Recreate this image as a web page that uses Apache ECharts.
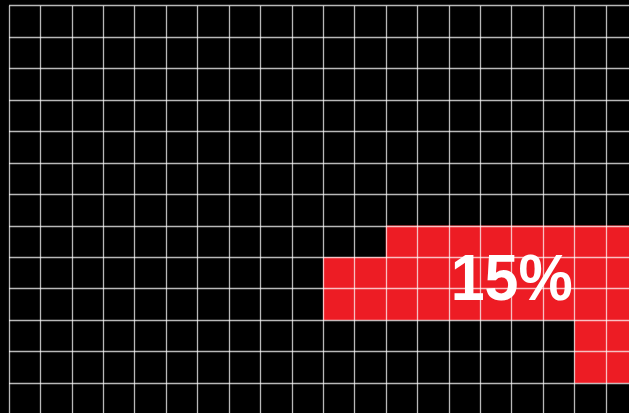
<!DOCTYPE html>
<html>
<head>
<meta charset="utf-8">
<script src="https://cdn.jsdelivr.net/npm/echarts@6/dist/echarts.min.js"></script>
<style>
html,body{margin:0;padding:0;background:#000;}
#chart{width:629px;height:413px;}
</style>
</head>
<body>
<div id="chart"></div>
<script>
// Grid of cells: columns and rows (category indices)
const columns = ['0','1','2','3','4','5','6','7','8','9','10','11','12','13','14','15','16','17','18','19'];
const rows = ['0','1','2','3','4','5','6','7','8','9','10','11','12'];
// Filled (red) cells: for each filled row, the first filled column (filled through the last column)
const filledRows = [7, 8, 9, 10, 11];
const filledFromCol = [12, 10, 10, 18, 18];
const labelText = '15%';

const data = [];
filledRows.forEach((r, i) => {
  for (let c = filledFromCol[i]; c < columns.length; c++) data.push([c, r, 1]);
});

const cellW = 31.42;
const cellH = 31.44;
const chart = echarts.init(document.getElementById('chart'));
chart.setOption({
  backgroundColor: '#000000',
  animation: false,
  grid: {
    left: 9, top: 5.7, width: cellW * columns.length, height: cellH * rows.length,
    outerBoundsMode: 'none', containLabel: false
  },
  xAxis: {
    type: 'category', data: columns, z: 10,
    axisLine: { show: false }, axisTick: { show: false }, axisLabel: { show: false },
    splitLine: { show: true, lineStyle: { color: 'rgba(255,255,255,0.72)', width: 1.3 } }
  },
  yAxis: {
    type: 'category', data: rows, inverse: true, z: 10,
    axisLine: { show: false }, axisTick: { show: false }, axisLabel: { show: false },
    splitLine: { show: true, lineStyle: { color: 'rgba(255,255,255,0.72)', width: 1.3 } }
  },
  visualMap: { show: false, min: 0, max: 1, inRange: { color: ['#ED1C24', '#ED1C24'] } },
  series: [{
    type: 'heatmap', data: data,
    itemStyle: { color: '#ED1C24' },
    emphasis: { disabled: true }
  }],
  graphic: [{
    type: 'text', z: 100,
    x: 511.7, y: 282,
    scaleY: 1.05,
    style: {
      text: labelText,
      font: 'bold 61px "Liberation Sans", Arial, sans-serif',
      fill: '#ffffff',
      align: 'center',
      verticalAlign: 'middle'
    }
  }]
});
</script>
</body>
</html>
